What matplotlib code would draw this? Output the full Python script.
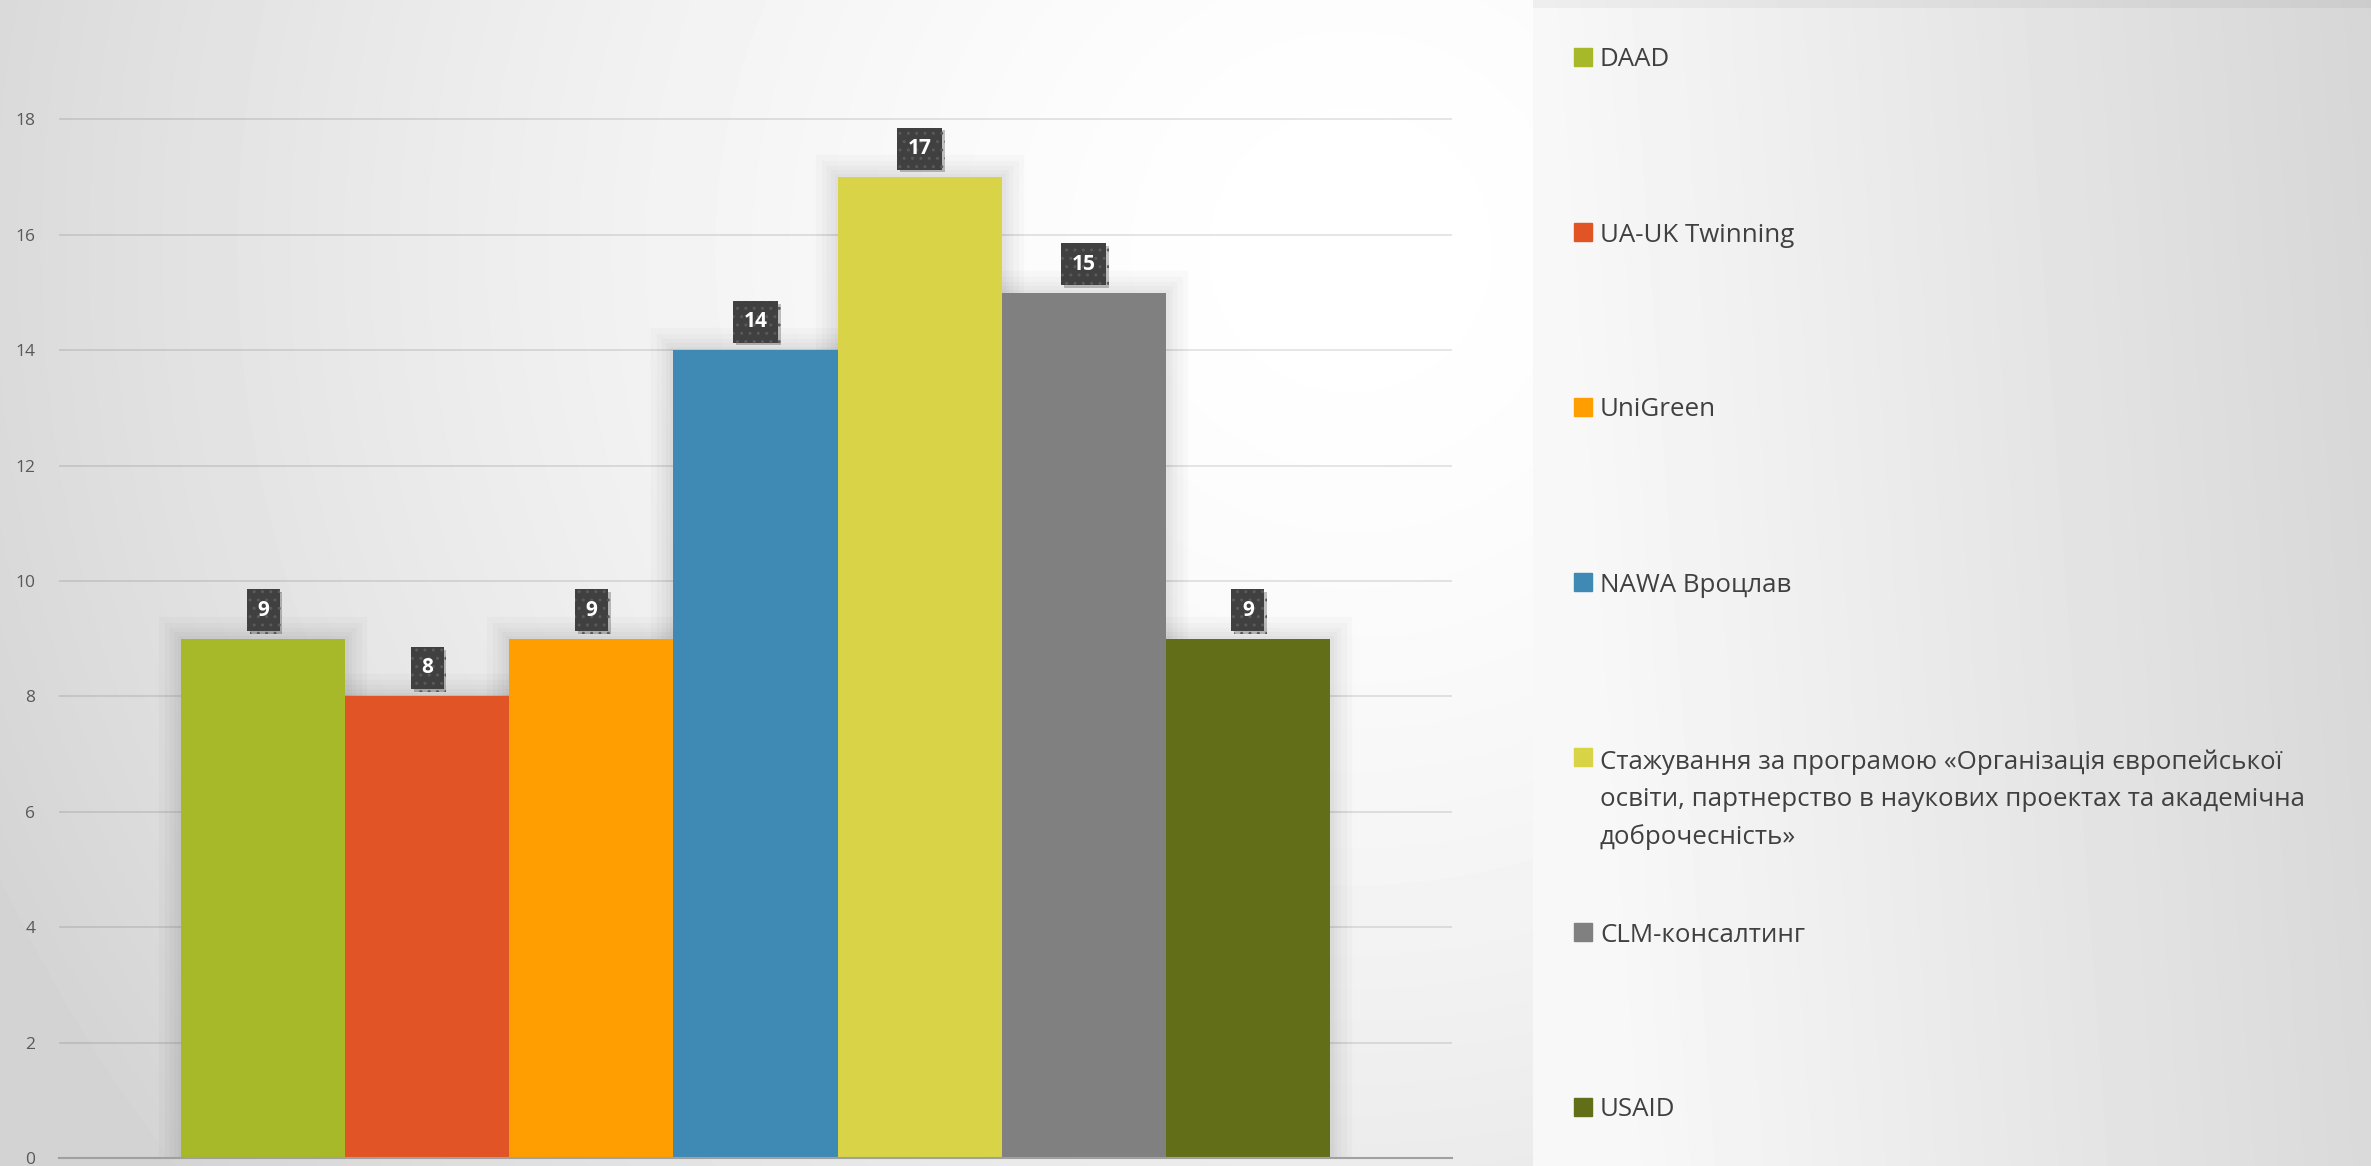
import numpy as np
import matplotlib
matplotlib.use("Agg")
import matplotlib.pyplot as plt
from matplotlib.patches import Rectangle
import matplotlib.patheffects as pe

programs = ["DAAD", "UA-UK Twinning", "UniGreen", "NAWA Вроцлав",
            "Стажування за програмою «Організація європейської\n"
            "освіти, партнерство в наукових проектах та академічна\n"
            "доброчесність»",
            "CLM-консалтинг", "USAID"]
counts = [9, 8, 9, 14, 17, 15, 9]
colors = ["#A7B828", "#E05425", "#FE9E00", "#3F8AB5", "#D8D347", "#808080", "#636F18"]
yticks = [0, 2, 4, 6, 8, 10, 12, 14, 16, 18]

W, H = 2371, 1166
fig = plt.figure(figsize=(W / 100, H / 100), dpi=100)

# background: radial light spot over the chart, gradient panel behind the legend
yy, xx = np.mgrid[0:H, 0:W].astype(float)
d = np.clip(np.hypot(xx - 1350, yy - 250) / 1500, 0, 1)
img = 1 - 0.17 * d ** 1.6
px = 1533
u = np.clip((xx - px) / (W - px) - 0.1 * yy / H, 0, 1)
panel = (248 - 34 * u) / 255
img = np.where(xx >= px, panel, img)
strip = (238 - 34 * np.clip((xx - px) / (W - px), 0, 1)) / 255
img = np.where((xx >= px) & (yy < 8), strip, img)
bg = fig.add_axes([0, 0, 1, 1], zorder=-10)
bg.imshow(img, cmap="gray", vmin=0, vmax=1, aspect="auto", interpolation="bilinear")
bg.axis("off")

ax = fig.add_axes([59 / W, 1 - 1158 / H, (1452 - 59) / W, (1158 - 4) / H])
ax.patch.set_alpha(0)

x = np.arange(len(counts))
# soft glow behind the bars
glow = ax.bar(x, counts, width=1.0, color="none", edgecolor="none", zorder=1)
for g in glow:
    g.set_path_effects([pe.withStroke(linewidth=lw, foreground="black", alpha=0.018)
                        for lw in (32, 24, 16, 10, 5)])
ax.bar(x, counts, width=1.0, color=colors, edgecolor="none", zorder=2)

for xi, v in zip(x, counts):
    t = ax.annotate(str(v), (xi, v), xytext=(0, 20.5), textcoords="offset points",
                    ha="center", va="center", color="white", fontsize=15,
                    fontweight="bold", family="Open Sans", zorder=5,
                    bbox=dict(boxstyle="square,pad=0.5", facecolor="#404040",
                              edgecolor="#5a5a5a", linewidth=0, hatch=".."))
    t.get_bbox_patch().set_path_effects([pe.SimplePatchShadow(offset=(2, -2), alpha=0.25),
                                         pe.Normal()])

ax.set_xlim(-0.5 - 0.744, len(counts) - 0.5 + 0.744)
ax.set_ylim(0, 20)
ax.set_yticks(yticks)
ax.set_xticks([])
ax.tick_params(axis="y", length=0, pad=17, labelsize=12.5, labelcolor="#595959")
for lab in ax.get_yticklabels():
    lab.set_family("Open Sans")
ax.grid(axis="y", color="black", alpha=0.11, linewidth=1.3, zorder=0)
ax.set_axisbelow(True)
for s in ["top", "right", "left"]:
    ax.spines[s].set_visible(False)
ax.spines["bottom"].set_color("#a0a0a0")
ax.spines["bottom"].set_linewidth(1.5)

# legend on the right panel
line_px = 39
for i, (name, c) in enumerate(zip(programs, colors)):
    yc = 57 + i * 175
    nl = name.count("\n")
    fig.patches.append(Rectangle((1574 / W, 1 - (yc + 9) / H), 18 / W, 18 / H,
                                 transform=fig.transFigure, color=c))
    fig.text(1600 / W, 1 - (yc + 9.5 + nl * line_px) / H, name, ha="left", va="baseline",
             fontsize=18.6, color="#404040", linespacing=1.63, family="Open Sans")

fig.savefig("out.png", dpi=100)
